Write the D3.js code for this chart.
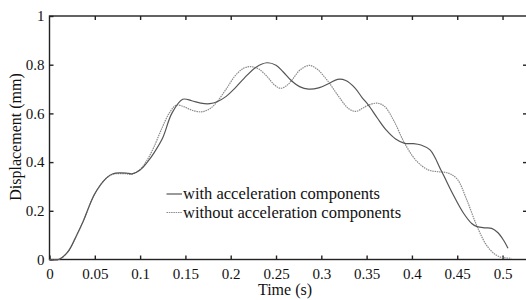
<!DOCTYPE html>
<html>
<head>
<meta charset="utf-8">
<script src="https://cdn.jsdelivr.net/npm/d3@7"></script>
<style>
body { margin: 0; background: #fff; }
svg { display: block; font-family: "Liberation Serif", "DejaVu Serif", serif; }
</style>
</head>
<body>
<svg id="main" width="526" height="300"></svg>
<script>
// values
var tWith = [0, 0.01, 0.02, 0.03, 0.037, 0.05, 0.063, 0.07, 0.078, 0.085, 0.091, 0.1, 0.108, 0.115, 0.125, 0.135, 0.147, 0.157, 0.167, 0.177, 0.185, 0.195, 0.205, 0.215, 0.228, 0.24, 0.25, 0.258, 0.267, 0.276, 0.286, 0.297, 0.309, 0.318, 0.327, 0.337, 0.345, 0.352, 0.362, 0.372, 0.382, 0.392, 0.401, 0.41, 0.42, 0.433, 0.445, 0.457, 0.466, 0.472, 0.48, 0.488, 0.495, 0.501, 0.506];
var dWith = [0, 0, 0.03, 0.1, 0.155, 0.27, 0.335, 0.352, 0.356, 0.355, 0.352, 0.368, 0.4, 0.436, 0.5, 0.6, 0.658, 0.652, 0.642, 0.64, 0.648, 0.67, 0.705, 0.745, 0.79, 0.808, 0.798, 0.77, 0.734, 0.71, 0.7, 0.705, 0.724, 0.74, 0.735, 0.705, 0.665, 0.634, 0.58, 0.53, 0.495, 0.477, 0.476, 0.47, 0.45, 0.36, 0.27, 0.19, 0.148, 0.135, 0.13, 0.128, 0.11, 0.08, 0.046];
var tWithout = [0, 0.01, 0.02, 0.03, 0.037, 0.05, 0.063, 0.07, 0.078, 0.085, 0.091, 0.1, 0.108, 0.115, 0.123, 0.132, 0.14, 0.148, 0.158, 0.169, 0.178, 0.185, 0.195, 0.205, 0.214, 0.222, 0.231, 0.24, 0.248, 0.255, 0.262, 0.267, 0.277, 0.287, 0.296, 0.303, 0.309, 0.32, 0.33, 0.338, 0.345, 0.352, 0.362, 0.37, 0.38, 0.392, 0.405, 0.418, 0.43, 0.44, 0.45, 0.46, 0.472, 0.483, 0.493, 0.5, 0.51];
var dWithout = [0, 0, 0.03, 0.1, 0.155, 0.27, 0.335, 0.35, 0.353, 0.352, 0.35, 0.37, 0.41, 0.46, 0.53, 0.6, 0.634, 0.628, 0.612, 0.607, 0.622, 0.648, 0.7, 0.755, 0.785, 0.792, 0.782, 0.752, 0.718, 0.703, 0.715, 0.734, 0.78, 0.797, 0.78, 0.752, 0.724, 0.665, 0.62, 0.608, 0.62, 0.634, 0.642, 0.628, 0.57, 0.477, 0.405, 0.368, 0.36, 0.355, 0.33, 0.25, 0.135, 0.055, 0.018, 0.008, 0.005];
var xTicks = [0, 0.05, 0.1, 0.15, 0.2, 0.25, 0.3, 0.35, 0.4, 0.45, 0.5];
var yTicks = [0, 0.2, 0.4, 0.6, 0.8, 1];
var seriesNames = ["with acceleration components", "without acceleration components"];

var svg = d3.select("#main");
var x = d3.scaleLinear().domain([0, 0.527]).range([49.5, 527]);
var y = d3.scaleLinear().domain([0, 1]).range([259.5, 16]);
var axisColor = "#222";
var serif = "Liberation Serif, DejaVu Serif, serif";

// frame
svg.append("rect")
	.attr("x", x(0)).attr("y", y(1))
	.attr("width", x(0.527) - x(0)).attr("height", y(0) - y(1))
	.attr("fill", "none").attr("stroke", axisColor).attr("stroke-width", 1.4);

var fmt = function(d) { return d3.format("")(d); };

// ticks on all four sides, pointing inwards
var gBottom = svg.append("g").attr("transform", "translate(0," + y(0) + ")")
	.call(d3.axisBottom(x).tickValues(xTicks).tickSize(-4).tickPadding(8).tickFormat(fmt));
var gTop = svg.append("g").attr("transform", "translate(0," + y(1) + ")")
	.call(d3.axisTop(x).tickValues(xTicks.slice(1)).tickSize(-4).tickFormat(""));
var gLeft = svg.append("g").attr("transform", "translate(" + x(0) + ",0)")
	.call(d3.axisLeft(y).tickValues(yTicks).tickSize(-4).tickPadding(5).tickFormat(fmt));
var gRight = svg.append("g").attr("transform", "translate(" + x(0.527) + ",0)")
	.call(d3.axisRight(y).tickValues(yTicks.slice(1, 5)).tickSize(-4).tickFormat(""));

[gBottom, gTop, gLeft, gRight].forEach(function(g) {
	g.attr("font-family", serif).attr("font-size", 15);
	g.select(".domain").remove();
	g.selectAll(".tick line").attr("stroke", axisColor).attr("stroke-width", 1.4);
	g.selectAll(".tick text").attr("fill", "#111");
});
gBottom.selectAll(".tick text").attr("dy", "0.78em");

// curves
var line = d3.line().curve(d3.curveCatmullRom.alpha(0.5));
var ptsWith = tWith.map(function(t, i) { return [x(t), y(dWith[i])]; });
var ptsWithout = tWithout.map(function(t, i) { return [x(t), y(dWithout[i])]; });

svg.append("path").attr("d", line(ptsWithout))
	.attr("fill", "none").attr("stroke", "#8a8a8a").attr("stroke-width", 1.2)
	.attr("stroke-dasharray", "1.5,0.8");
svg.append("path").attr("d", line(ptsWith))
	.attr("fill", "none").attr("stroke", "#555").attr("stroke-width", 1.2);

// legend
var legend = svg.append("g").attr("font-family", serif).attr("font-size", 16.5);
var styles = [{c: "#555", dash: null}, {c: "#8a8a8a", dash: "1.5,0.8"}];
seriesNames.forEach(function(name, i) {
	var ly = 194 + i * 18.5;
	legend.append("line")
		.attr("x1", 166.5).attr("x2", 182).attr("y1", ly).attr("y2", ly)
		.attr("stroke", styles[i].c).attr("stroke-width", 1.2)
		.attr("stroke-dasharray", styles[i].dash);
	legend.append("text")
		.attr("x", 183).attr("y", ly + 5)
		.attr("fill", "#111")
		.text(name);
});

// axis titles
svg.append("text")
	.attr("x", 285).attr("y", 295)
	.attr("text-anchor", "middle").attr("font-family", serif).attr("font-size", 16).attr("fill", "#111")
	.text("Time (s)");
svg.append("text")
	.attr("transform", "translate(21,137) rotate(-90)")
	.attr("text-anchor", "middle").attr("font-family", serif).attr("font-size", 16).attr("fill", "#111")
	.text("Displacement (mm)");
</script>
</body>
</html>
